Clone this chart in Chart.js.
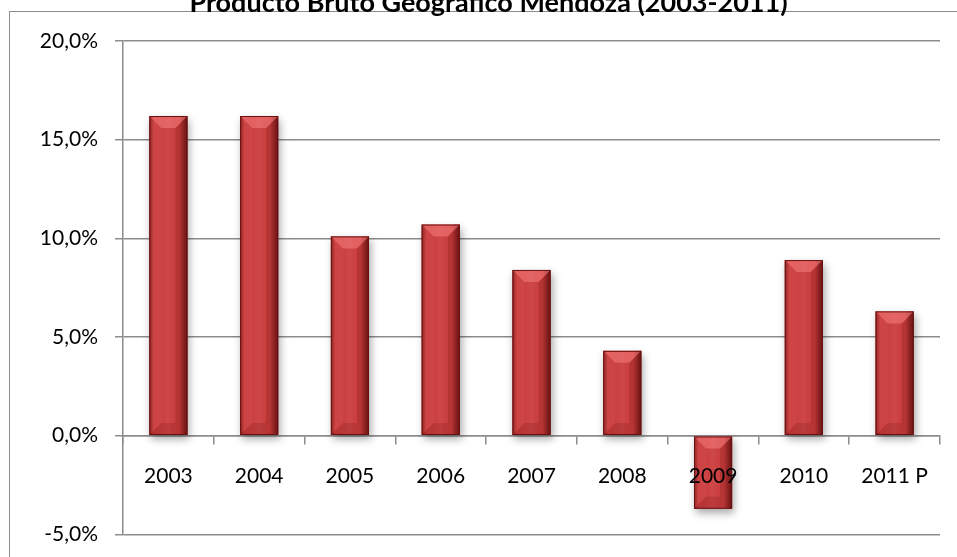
<!DOCTYPE html>
<html><head><meta charset="utf-8">
<script src="https://cdn.jsdelivr.net/npm/chart.js@4"></script>
<style>
html,body{margin:0;padding:0;width:957px;height:557px;overflow:hidden;background:#fff;}
#frame{position:absolute;left:9px;top:11px;width:2000px;height:2000px;border-left:1.5px solid #8c8c8c;border-top:1.5px solid #8c8c8c;}
#wrap{position:absolute;left:0;top:-20px;width:957px;height:584px;}
</style></head><body>
<div id="frame"></div>
<div id="wrap"><canvas id="c"></canvas></div>
<script>
const titleText = 'Producto Bruto Geográfico Mendoza (2003-2011)';
const categories = ['2003','2004','2005','2006','2007','2008','2009','2010','2011 P'];
const growth = [16.2, 16.2, 10.1, 10.7, 8.4, 4.3, -3.7, 8.9, 6.3];
const yMin = -5, yMax = 20, yStep = 5;

const GRID = '#8c8c8c';

const shadowPlugin = {
  id: 'barShadow',
  beforeDatasetsDraw(chart) {
    const ctx = chart.ctx;
    ctx.save();
    ctx.shadowColor = 'rgba(0,0,0,0.35)';
    ctx.shadowBlur = 8;
    ctx.shadowOffsetX = 2;
    ctx.shadowOffsetY = 4;
  },
  afterDatasetsDraw(chart) {
    const ctx = chart.ctx;
    ctx.restore();
    const meta = chart.getDatasetMeta(0);
    meta.data.forEach(bar => {
      const w = bar.width;
      const l = bar.x - w / 2, r = bar.x + w / 2;
      const t = Math.min(bar.y, bar.base), b = Math.max(bar.y, bar.base);
      const h = b - t;
      const bv = Math.min(12, w / 3, h / 2);
      ctx.save();
      const g = ctx.createLinearGradient(l, 0, r, 0);
      g.addColorStop(0, 'rgba(80,0,0,0.55)');
      g.addColorStop(0.12, 'rgba(80,0,0,0.0)');
      g.addColorStop(0.5, 'rgba(255,255,255,0.05)');
      g.addColorStop(0.78, 'rgba(60,0,0,0.0)');
      g.addColorStop(1, 'rgba(60,0,0,0.65)');
      ctx.fillStyle = g;
      ctx.fillRect(l, t, w, h);
      ctx.beginPath();
      ctx.moveTo(l, t); ctx.lineTo(r, t); ctx.lineTo(r - bv, t + bv); ctx.lineTo(l + bv, t + bv); ctx.closePath();
      ctx.fillStyle = 'rgba(255,140,140,0.45)';
      ctx.fill();
      ctx.beginPath();
      ctx.moveTo(l, b); ctx.lineTo(r, b); ctx.lineTo(r - bv, b - bv); ctx.lineTo(l + bv, b - bv); ctx.closePath();
      ctx.fillStyle = 'rgba(70,0,0,0.14)';
      ctx.fill();
      ctx.beginPath();
      ctx.moveTo(l, t); ctx.lineTo(l + bv, t + bv); ctx.lineTo(l + bv, b - bv); ctx.lineTo(l, b); ctx.closePath();
      ctx.fillStyle = 'rgba(255,200,200,0.05)';
      ctx.fill();
      ctx.beginPath();
      ctx.moveTo(r, t); ctx.lineTo(r - bv, t + bv); ctx.lineTo(r - bv, b - bv); ctx.lineTo(r, b); ctx.closePath();
      ctx.fillStyle = 'rgba(60,0,0,0.15)';
      ctx.fill();
      ctx.strokeStyle = '#6a1010';
      ctx.lineWidth = 1;
      ctx.strokeRect(l + 0.5, t + 0.5, w - 1, h - 1);
      ctx.restore();
    });
  }
};

new Chart(document.getElementById('c'), {
  type: 'bar',
  data: {
    labels: categories,
    datasets: [{
      data: growth,
      backgroundColor: '#cc3e3e',
      borderWidth: 0,
      barPercentage: 0.42,
      categoryPercentage: 1.0
    }]
  },
  plugins: [shadowPlugin],
  options: {
    responsive: true,
    maintainAspectRatio: false,
    animation: false,
    layout: { padding: { left: 37, right: 17, top: 0, bottom: 23 } },
    plugins: {
      legend: { display: false },
      tooltip: { enabled: false },
      title: {
        display: true,
        text: titleText,
        color: '#000',
        font: { family: 'Lato', size: 27, weight: 'bold', lineHeight: 1.2 },
        padding: { top: 6.8, bottom: 21.8 }
      }
    },
    scales: {
      y: {
        min: yMin, max: yMax,
        afterFit(scale) { scale.width = 86; },
        ticks: {
          stepSize: yStep,
          padding: 17,
          color: '#000',
          font: { family: 'Lato', size: 21 },
          callback: v => v.toFixed(1).replace('.', ',') + '%'
        },
        grid: { color: GRID, lineWidth: 1.5, tickLength: 8, drawTicks: true },
        border: { display: true, color: GRID, width: 1.5 }
      },
      x: {
        position: { y: 0 },
        offset: true,
        afterFit(scale) { scale.height = 0; },
        ticks: {
          z: 1,
          padding: 20,
          color: '#000',
          font: { family: 'Lato', size: 21 },
          maxRotation: 0,
          autoSkip: false
        },
        grid: { offset: true, drawOnChartArea: false, drawTicks: true, tickLength: 8, color: GRID, lineWidth: 1.5 },
        border: { display: true, color: GRID, width: 1.5 }
      }
    }
  }
});
</script>
</body></html>
